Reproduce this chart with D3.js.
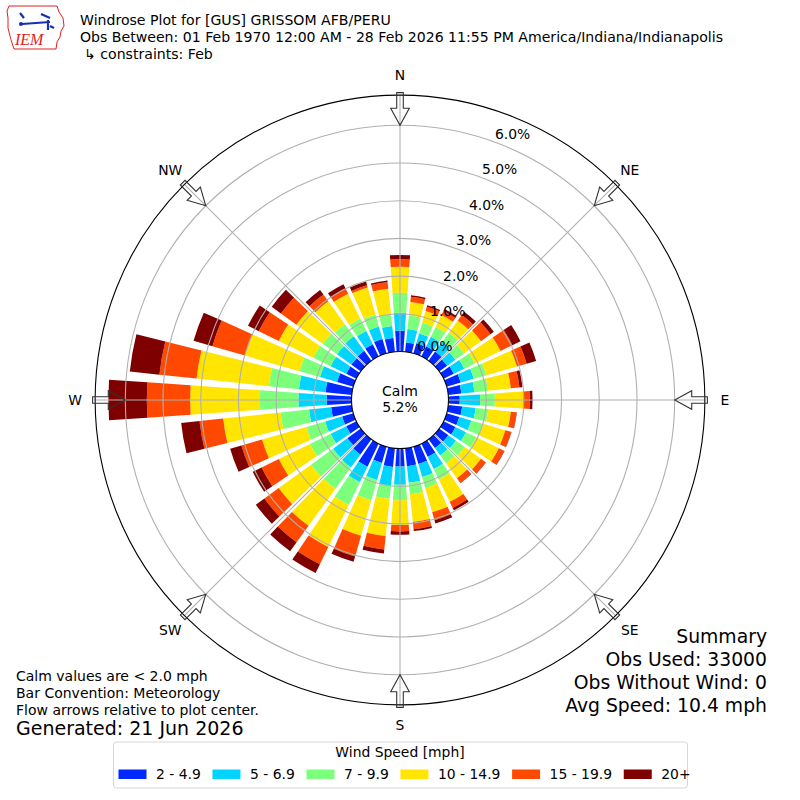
<!DOCTYPE html>
<html><head><meta charset="utf-8">
<script src="https://cdn.jsdelivr.net/npm/d3@7/dist/d3.min.js"></script>
<style>
body{margin:0;background:#fff}
svg{display:block}
text{font-family:"DejaVu Sans",Verdana,sans-serif;fill:#000}
</style>
</head><body>
<svg id="chart" width="800" height="800"></svg>
<script>
// ---------------- DATA ----------------
const directions = [0,10,20,30,40,50,60,70,80,90,100,110,120,130,140,150,160,170,
                    180,190,200,210,220,230,240,250,260,270,280,290,300,310,320,330,340,350];
const speedBins = ["2 - 4.9","5 - 6.9","7 - 9.9","10 - 14.9","15 - 19.9","20+"];
const binColors = ["#0028ff","#00d4ff","#7cff7a","#ffe500","#ff4900","#7f0000"];
// percent of observations per direction for each speed bin
const bin2to5   = [0.55,0.25,0.28,0.30,0.30,0.26,0.30,0.39,0.35,0.30,0.37,0.35,0.35,0.30,0.29,0.39,0.48,0.48,
                   0.48,0.50,0.45,0.68,0.50,0.44,0.30,0.31,0.55,0.66,0.70,0.45,0.30,0.31,0.33,0.36,0.40,0.37];
const bin5to7   = [0.48,0.36,0.27,0.28,0.32,0.27,0.31,0.36,0.35,0.54,0.36,0.33,0.31,0.25,0.24,0.36,0.36,0.44,
                   0.48,0.50,0.47,0.46,0.43,0.47,0.46,0.47,0.59,0.75,0.71,0.47,0.46,0.47,0.47,0.39,0.34,0.32];
const bin7to10  = [0.53,0.36,0.30,0.29,0.30,0.29,0.31,0.35,0.36,0.39,0.34,0.33,0.31,0.29,0.26,0.31,0.30,0.31,
                   0.41,0.35,0.56,0.67,0.70,0.72,0.61,0.52,0.76,1.02,0.80,0.57,0.51,0.47,0.40,0.37,0.33,0.31];
const bin10to15 = [0.69,0.36,0.32,0.35,0.40,0.55,0.76,0.84,0.61,0.75,0.60,0.61,0.66,0.53,0.49,0.66,0.67,0.74,
                   0.66,0.99,0.98,1.24,1.21,1.06,0.92,1.22,1.53,1.85,1.93,1.50,1.02,0.86,0.75,0.73,0.75,0.68];
const bin15to20 = [0.20,0.14,0.12,0.12,0.18,0.31,0.35,0.27,0.23,0.18,0.15,0.16,0.16,0.15,0.15,0.18,0.22,0.19,
                   0.17,0.36,0.57,0.51,0.54,0.47,0.51,0.57,0.63,1.15,0.99,0.90,0.59,0.51,0.22,0.15,0.06,0.18];
const bin20plus = [0.11,0.04,0.04,0.06,0.11,0.11,0.24,0.26,0.08,0.07,0.01,0.01,0.01,0.01,0.01,0.07,0.09,0.05,
                   0.09,0.11,0.15,0.26,0.29,0.28,0.26,0.31,0.49,1.02,0.79,0.52,0.32,0.30,0.15,0.13,0.10,0.04];
const ringTicks = [0,1,2,3,4,5,6];
const compassLabels = ["N","NE","E","SE","S","SW","W","NW"];
const compassAngles = [0,45,90,135,180,225,270,315];
const calmPct = 5.2;
const titleLines = ["Windrose Plot for [GUS] GRISSOM AFB/PERU",
  "Obs Between: 01 Feb 1970 12:00 AM - 28 Feb 2026 11:55 PM America/Indiana/Indianapolis",
  "\u21b3 constraints: Feb"];
const noteLines = ["Calm values are < 2.0 mph","Bar Convention: Meteorology","Flow arrows relative to plot center."];
const generatedText = "Generated: 21 Jun 2026";
const summaryLines = ["Summary","Obs Used: 33000","Obs Without Wind: 0","Avg Speed: 10.4 mph"];
const legendTitle = "Wind Speed [mph]";

// ---------------- CHART ----------------
const svg = d3.select("#chart");
const cx = 400, cy = 400;
const r = d3.scaleLinear().domain([0, 6]).range([48.5, 274.7]);
const rOuter = r(6.8);
const rad = d => d * Math.PI / 180;
const g = svg.append("g").attr("transform", `translate(${cx},${cy})`);

const series = [bin2to5, bin5to7, bin7to10, bin10to15, bin15to20, bin20plus];
const keys = speedBins;
const table = directions.map((d, i) => {
  const o = {dir: d};
  keys.forEach((k, j) => o[k] = series[j][i]);
  return o;
});
const stacked = d3.stack().keys(keys)(table);

const halfWidth = 4; // degrees
const arc = d3.arc();
stacked.forEach((layer, li) => {
  g.append("g").selectAll("path").data(layer).join("path")
    .attr("d", d => arc({
      innerRadius: r(d[0]), outerRadius: r(d[1]),
      startAngle: rad(d.data.dir - halfWidth), endAngle: rad(d.data.dir + halfWidth)
    }))
    .attr("fill", binColors[li]);
});

// grid rings
const grid = g.append("g").attr("fill", "none").attr("stroke", "#b0b0b0").attr("stroke-width", 1.1);
grid.selectAll("circle").data(ringTicks.slice(1)).join("circle").attr("r", d => r(d));
// spokes
grid.selectAll("line").data(compassAngles).join("line")
  .attr("x1", 0).attr("y1", 0)
  .attr("x2", d => rOuter * Math.sin(rad(d)))
  .attr("y2", d => -rOuter * Math.cos(rad(d)));

// outer circle
g.append("circle").attr("r", rOuter).attr("fill", "none").attr("stroke", "#000").attr("stroke-width", 1.1);

// flow arrows
function pt(a, radius, off) {
  const t = rad(a);
  return [radius * Math.sin(t) + off * Math.cos(t), -radius * Math.cos(t) + off * Math.sin(t)];
}
const tipR = r(6), headR = tipR + 17, tailR = rOuter + 2.5;
g.append("g").selectAll("path").data(compassAngles).join("path")
  .attr("d", a => {
    const p = [pt(a, tailR, -3.3), pt(a, headR, -3.3), pt(a, headR, -9.3), pt(a, tipR, 0),
               pt(a, headR, 9.3), pt(a, headR, 3.3), pt(a, tailR, 3.3)];
    return "M" + p.map(q => q.join(",")).join("L") + "Z";
  })
  .attr("fill", "none").attr("stroke", "#333").attr("stroke-width", 1.1);

// calm circle
g.append("circle").attr("r", r(0)).attr("fill", "#fff").attr("stroke", "#000").attr("stroke-width", 1.1);
g.append("text").attr("x", 0).attr("y", -4.5).attr("text-anchor", "middle").style("font-size", "14px").text("Calm");
g.append("text").attr("x", 0).attr("y", 11.5).attr("text-anchor", "middle").style("font-size", "14px").text(calmPct.toFixed(1) + "%");

// radial labels
const labAng = rad(20.1);
g.append("g").selectAll("text").data(ringTicks).join("text")
  .attr("x", d => r(d) * Math.sin(labAng) + 0.5)
  .attr("y", d => -r(d) * Math.cos(labAng) - 3)
  .style("font-size", "13.9px")
  .text(d => d.toFixed(1) + "%");

// compass labels
g.append("g").selectAll("text").data(compassLabels).join("text")
  .attr("x", (d, i) => 325 * Math.sin(rad(compassAngles[i])))
  .attr("y", (d, i) => -325 * Math.cos(rad(compassAngles[i])))
  .attr("text-anchor", "middle").attr("dominant-baseline", "central")
  .style("font-size", "13.9px")
  .text(d => d);

// ---------------- TEXT ----------------
const titleY = [25, 42, 58.5];
svg.append("g").selectAll("text").data(titleLines).join("text")
  .attr("x", (d, i) => i === 2 ? 84 : 80).attr("y", (d, i) => titleY[i])
  .style("font-size", "14.1px").text(d => d);

svg.append("g").selectAll("text").data(noteLines).join("text")
  .attr("x", 16).attr("y", (d, i) => 681 + i * 17)
  .style("font-size", "14px").text(d => d);
svg.append("text").attr("x", 16).attr("y", 735).style("font-size", "19px").text(generatedText);

svg.append("g").selectAll("text").data(summaryLines).join("text")
  .attr("x", 767).attr("y", (d, i) => 642.5 + i * 23.3)
  .attr("text-anchor", "end").style("font-size", "18.8px").text(d => d);

// ---------------- LEGEND ----------------
const leg = svg.append("g");
leg.append("rect").attr("x", 113.5).attr("y", 742).attr("width", 574).attr("height", 46)
  .attr("rx", 3).attr("fill", "#fff").attr("stroke", "#d6d6d6").attr("stroke-width", 1);
leg.append("text").attr("x", 400).attr("y", 757).attr("text-anchor", "middle")
  .style("font-size", "13.9px").text(legendTitle);
let lx = 118.5;
speedBins.forEach((b, i) => {
  leg.append("rect").attr("x", lx).attr("y", 769.5).attr("width", 28).attr("height", 9.5).attr("fill", binColors[i]);
  const t = leg.append("text").attr("x", lx + 37.5).attr("y", 779).style("font-size", "13.9px").text(b);
  lx = lx + 37.5 + t.node().getComputedTextLength() + 11.7;
});

// ---------------- LOGO ----------------
const logo = svg.append("g");
logo.append("path")
  .attr("d", "M9,6 L57,6 L59,12 L63,18 L64,26 L61,31 L60,37 L57,42 L56,49 L14,49 L12,43 L10,36 L8,28 L8,18 L7,11 Z")
  .attr("fill", "none").attr("stroke", "#d22").attr("stroke-width", 1);
logo.append("path").attr("d", "M20,13 L24,18 M22,24 L50,22 M41,14 L50,18 M48,20 L48,30 M50,26 L54,28")
  .attr("fill", "none").attr("stroke", "#1a2fb0").attr("stroke-width", 2.2);
logo.append("circle").attr("cx", 21).attr("cy", 24).attr("r", 2).attr("fill", "#1a2fb0");
logo.append("text").attr("x", 15).attr("y", 45)
  .style("font-family", "'Liberation Serif',serif").style("font-style", "italic")
  .style("font-size", "16px").style("fill", "#d22").text("IEM");
</script>
</body></html>
